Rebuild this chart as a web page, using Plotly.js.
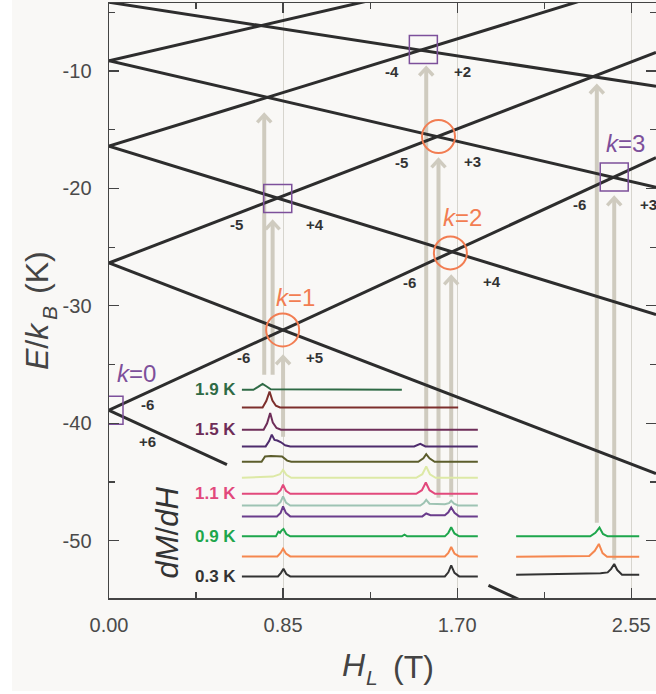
<!DOCTYPE html>
<html><head><meta charset="utf-8">
<script src="https://cdn.plot.ly/plotly-3.0.1.min.js"></script>
<style>html,body{margin:0;padding:0;background:#ffffff;}#plot{position:absolute;left:12px;top:0;width:644px;height:691px;}</style>
</head><body><div id="plot"></div>
<script>
// ---- Zeeman energy levels (E/kB in K vs H_L in T), endpoints
const levelNames = ['-6', '+6', '-5', '+5', '-4', '+4', '-3', '+3', '+2'];
const levelH = [
  [0, 2.671], [0, 0.576, null, 1.853, 2.0], [0, 2.671], [0, 2.671], [0, 2.671],
  [0, 2.671], [0, 2.671], [0, 2.671], [0, 2.671]
];
const levelE = [
  [-38.89, -17.38], [-38.89, -43.53, null, -53.81, -54.99], [-26.35, -8.42], [-26.35, -44.28],
  [-16.40, -2.05], [-16.40, -30.75], [-9.13, 1.64], [-9.13, -19.90], [-4.15, -11.31]
];

// ---- level crossings (k resonances)
const circleH = [0.848, 1.609, 1.667];
const circleE = [-32.05, -15.58, -25.49];
const squareH = [0.0, 0.824, 1.535, 2.467];
const squareE = [-38.89, -20.85, -8.17, -19.02];

// ---- transition arrows
const arrowH = [0.758, 0.799, 0.850, 1.549, 1.609, 1.671, 2.382, 2.467];
const arrowTailE = [-35.87, -35.87, -41.15, -42.00, -46.34, -46.26, -48.47, -51.62];
const arrowTipE = [-13.74, -22.85, -34.34, -9.74, -17.57, -27.53, -11.28, -20.81];

// ---- dM/dH traces (baseline offsets and peak heights)
const traceColors = ['#2f6a45', '#7d2f2c', '#6e2d58', '#4e2c6d', '#5c5d2c', '#dde9a6',
  '#e2497c', '#9ec3b3', '#6b3d8c', '#1ea64c', '#f5874f', '#333333'];
const traceTemps = ['1.9 K', '', '1.5 K', '', '', '', '1.1 K', '', '', '0.9 K', '', '0.3 K'];
const traceBase = [-37.15, -38.66, -40.55, -41.97, -43.28, -44.64, -46.00, -47.00, -47.93, -49.63, -51.34, -53.04];
const traceH = [
  [0.649, 0.705, 0.728, 0.750, 0.768, 0.790, 1.430],
  [0.649, 0.750, 0.768, 0.784, 0.798, 0.815, 0.835, 1.705],
  [0.649, 0.755, 0.772, 0.787, 0.800, 0.818, 0.840, 1.801],
  [0.649, 0.765, 0.782, 0.795, 0.808, 0.822, 0.840, 0.860, 0.885, 1.490, 1.520, 1.545, 1.801],
  [0.649, 0.745, 0.762, 0.790, 0.820, 0.845, 0.870, 0.890, 1.510, 1.535, 1.549, 1.565, 1.590, 1.801],
  [0.649, 0.800, 0.835, 0.850, 0.866, 0.890, 1.500, 1.530, 1.549, 1.567, 1.595, 1.801],
  [0.649, 0.820, 0.838, 0.850, 0.864, 0.885, 1.500, 1.528, 1.547, 1.565, 1.592, 1.801],
  [0.649, 0.820, 0.838, 0.850, 0.864, 0.885, 1.520, 1.537, 1.549, 1.565, 1.640, 1.660, 1.671, 1.685, 1.705, 1.801],
  [0.649, 0.820, 0.838, 0.850, 0.864, 0.885, 1.530, 1.549, 1.570, 1.640, 1.657, 1.671, 1.687, 1.710, 1.801],
  [0.649, 0.815, 0.827, 0.835, 0.843, 0.852, 0.866, 0.885, 1.430, 1.443, 1.456, 1.640, 1.657, 1.671, 1.687, 1.710, 1.801],
  [0.649, 0.822, 0.838, 0.850, 0.864, 0.885, 1.640, 1.657, 1.671, 1.687, 1.710, 1.801],
  [0.649, 0.825, 0.840, 0.852, 0.866, 0.885, 1.640, 1.657, 1.671, 1.687, 1.710, 1.801]
];
const traceD = [
  [0, 0, 0.25, 0.5, 0.3, 0.05, 0],
  [0, 0, 0.55, 1.36, 0.6, 0.15, 0, 0],
  [0, 0, 0.55, 1.42, 0.6, 0.15, 0, 0],
  [0, 0, 0.45, 1.0, 0.55, 0.5, 0.35, 0.1, 0, 0, 0.22, 0, 0],
  [0, 0, 0.45, 0.5, 0.48, 0.45, 0.1, 0, 0, 0.3, 0.65, 0.3, 0, 0],
  [0, 0.1, 0.3, 0.68, 0.25, 0, 0, 0.3, 0.96, 0.3, 0, 0],
  [0, 0, 0.3, 0.77, 0.25, 0, 0, 0.3, 0.96, 0.3, 0, 0],
  [0, 0, 0.3, 0.77, 0.25, 0, 0, 0.2, 0.48, 0.15, 0.1, 0.2, 0.4, 0.15, 0, 0],
  [0, 0, 0.3, 0.85, 0.3, 0, 0, 0.25, 0.1, 0.1, 0.35, 0.77, 0.3, 0, 0],
  [0, 0, 0.4, 0.3, 0.5, 0.62, 0.2, 0, 0, 0.15, 0, 0, 0.3, 0.77, 0.25, 0, 0],
  [0, 0, 0.3, 0.65, 0.25, 0, 0, 0.3, 0.8, 0.25, 0, 0],
  [0, 0, 0.3, 0.65, 0.2, 0, 0, 0.35, 0.94, 0.3, 0, 0]
];
// right-hand block (high-field part of the lowest three curves)
const rightColors = ['#1ea64c', '#f5874f', '#333333'];
const rightBase = [-49.63, -51.36, -52.90];
const rightH = [
  [1.988, 2.350, 2.375, 2.395, 2.412, 2.435, 2.589],
  [1.988, 2.345, 2.372, 2.392, 2.410, 2.432, 2.589],
  [1.988, 2.300, 2.400, 2.435, 2.452, 2.467, 2.482, 2.505, 2.589]
];
const rightD = [
  [0, 0, 0.3, 0.75, 0.2, 0, 0],
  [0, 0.05, 0.5, 1.08, 0.3, 0, 0],
  [0, 0.05, 0.12, 0.2, 0.5, 0.91, 0.4, 0, 0]
];

// ---- tick labels
const xTickVals = [0, 0.85, 1.70, 2.55];
const xTickText = ['0.00', '0.85', '1.70', '2.55'];
const yTickVals = [-50, -40, -30, -20, -10];
const yTickText = ['-50', '-40', '-30', '-20', '-10'];

// ---- styling
const FONT = 'Liberation Sans, Arial, Helvetica, sans-serif';
const ORANGE = '#f27d52', PURPLE = '#7d509b', ARROW = '#cfcbbf', LINE = '#2d2d2d';
const PX_PER_T = 204.8, PX_PER_K = 11.743;
const hx = px => (px - 109) / PX_PER_T;          // pixel -> field (label placement)
const ey = py => -4.21 - (py - 3) / PX_PER_K;     // pixel -> energy (label placement)
const px2paperX = px => (px - 109) / 547;
const py2paperY = py => (598 - py) / 595;
const HEAD_W = 7 / PX_PER_T, HEAD_H = 7.5 / PX_PER_K;   // chevron arrow-head size (style)

const traces = [];
// arrow shafts + open chevron heads
arrowH.forEach((h, i) => {
  traces.push({
    type: 'scatter', mode: 'lines', x: [h, h], y: [arrowTailE[i], arrowTipE[i] - 0.15],
    line: {color: ARROW, width: 4}, hoverinfo: 'skip', showlegend: false
  });
  traces.push({
    type: 'scatter', mode: 'lines', x: [h - HEAD_W, h, h + HEAD_W],
    y: [arrowTipE[i] - HEAD_H, arrowTipE[i], arrowTipE[i] - HEAD_H],
    line: {color: ARROW, width: 3.5}, hoverinfo: 'skip', showlegend: false
  });
});
levelNames.forEach((n, i) => traces.push({
  type: 'scatter', mode: 'lines', x: levelH[i], y: levelE[i], name: 'm=' + n,
  line: {color: LINE, width: 3}, connectgaps: false, showlegend: false
}));
traces.push({type: 'scatter', mode: 'markers', x: circleH, y: circleE, showlegend: false,
  marker: {symbol: 'circle-open', size: 33, color: ORANGE, line: {width: 2, color: ORANGE}}});
traces.push({type: 'scatter', mode: 'markers', x: squareH, y: squareE, showlegend: false,
  marker: {symbol: 'square-open', size: 28, color: PURPLE, line: {width: 1.5, color: PURPLE}}});
traceH.forEach((hs, i) => traces.push({
  type: 'scatter', mode: 'lines', x: hs, y: traceD[i].map(d => traceBase[i] + d),
  line: {color: traceColors[i], width: 2}, showlegend: false, name: traceTemps[i] || ('curve ' + (i + 1))
}));
rightH.forEach((hs, i) => traces.push({
  type: 'scatter', mode: 'lines', x: hs, y: rightD[i].map(d => rightBase[i] + d),
  line: {color: rightColors[i], width: 2}, showlegend: false
}));

const ann = [];
[['<i>k</i>=0', PURPLE, 136.5, 374], ['<i>k</i>=1', ORANGE, 295.5, 297.5],
 ['<i>k</i>=2', ORANGE, 463, 218], ['<i>k</i>=3', PURPLE, 626, 143]].forEach(a => ann.push({
  x: hx(a[2]), y: ey(a[3]), xref: 'x', yref: 'y', text: a[0], showarrow: false,
  font: {family: FONT, size: 24, color: a[1]}, xanchor: 'center', yanchor: 'middle'
}));
[['-6', 147, 405], ['+6', 147, 442], ['-6', 244, 358], ['+5', 315, 358], ['-5', 236, 225], ['+4', 315, 225],
 ['-4', 392, 71], ['+2', 463, 71], ['-5', 402, 162], ['+3', 473, 161], ['-6', 410, 283], ['+4', 492, 282],
 ['-6', 580, 205], ['+3', 649, 205]].forEach(a => ann.push({
  x: hx(a[1]), y: ey(a[2]), xref: 'x', yref: 'y', text: '<b>' + a[0] + '</b>', showarrow: false,
  font: {family: FONT, size: 15, color: '#333333'}, xanchor: 'center', yanchor: 'middle'
}));
traceTemps.forEach((t, i) => { if (t) ann.push({
  x: hx(238), y: traceBase[i], xref: 'x', yref: 'y', text: '<b>' + t + '</b>', showarrow: false,
  font: {family: FONT, size: 17, color: traceColors[i]}, xanchor: 'right', yanchor: 'middle'
}); });
ann.push({x: hx(167.5), y: ey(533), xref: 'x', yref: 'y', text: '<i>dM</i>/<i>dH</i>', showarrow: false,
  textangle: -90, font: {family: FONT, size: 31, color: '#333333'}});
// axis titles, built from pieces (main text + lowered subscript), outside the plot area
const TITLE = '#444444';
[['<i>H</i>', 353.5, 665, 32, 0], ['<i>L</i>', 372, 677, 21, 0], ['(T)', 413, 667, 32, 0],
 ['<i>E</i>/<i>k</i>', 37, 346, 32, -90], ['<i>B</i>', 50, 313, 21, -90], ['(K)', 37, 273, 32, -90]]
  .forEach(a => ann.push({
    x: px2paperX(a[1]), y: py2paperY(a[2]), xref: 'paper', yref: 'paper', text: a[0], showarrow: false,
    textangle: a[4], font: {family: FONT, size: a[3], color: TITLE}, xanchor: 'center', yanchor: 'middle'
  }));

const axisCommon = {
  ticks: 'inside', ticklen: 10, tickwidth: 1.2, tickcolor: '#444444', showline: true,
  linecolor: '#444444', linewidth: 1.5, mirror: 'ticks', zeroline: false, tickmode: 'array',
  tickfont: {family: FONT, size: 20, color: '#4a4a4a'}, fixedrange: true
};
const layout = {
  width: 644, height: 691, margin: {l: 97, r: 0, t: 3, b: 93},
  paper_bgcolor: '#f9f8f6', plot_bgcolor: '#f9f8f6', showlegend: false,
  xaxis: Object.assign({}, axisCommon, {
    range: [0, 2.671], tickvals: xTickVals, ticktext: xTickText, showgrid: true,
    gridcolor: '#d7d5ce', gridwidth: 1, ticklabelstandoff: 8,
    minor: {tick0: 0, dtick: 0.425, ticks: 'inside', ticklen: 6, tickcolor: '#444444', showgrid: false}
  }),
  yaxis: Object.assign({}, axisCommon, {
    range: [-54.88, -4.21], tickvals: yTickVals, ticktext: yTickText, showgrid: false,
    ticklabelstandoff: 12,
    minor: {tick0: 0, dtick: 5, ticks: 'inside', ticklen: 6, tickcolor: '#444444', showgrid: false}
  }),
  annotations: ann
};
Plotly.newPlot('plot', traces, layout, {staticPlot: true, displayModeBar: false});
</script></body></html>
